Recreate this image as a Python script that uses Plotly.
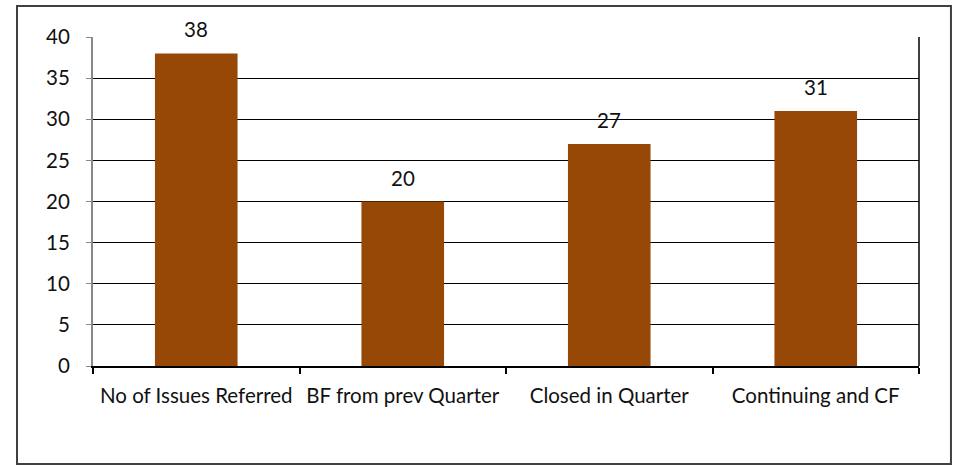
import plotly.graph_objects as go

categories = ["No of Issues Referred", "BF from prev Quarter", "Closed in Quarter", "Continuing and CF"]
values = [38, 20, 27, 31]
y_ticks = [0, 5, 10, 15, 20, 25, 30, 35, 40]

BAR = "#974806"
FONT = "Lato"
FS = 20.5
TXT = "#111111"

fig = go.Figure(go.Bar(x=categories, y=values, marker=dict(color=BAR, line=dict(width=0)), width=0.4))

for c, v in zip(categories, values):
    fig.add_annotation(x=c, y=v, text=str(v), showarrow=False, yanchor="bottom", yshift=10,
                       font=dict(family=FONT, size=FS, color=TXT))

fig.update_layout(
    width=954, height=467,
    margin=dict(l=93, r=35, t=37, b=101),
    paper_bgcolor="white", plot_bgcolor="white",
    showlegend=False,
    font=dict(family=FONT, size=FS, color=TXT),
    xaxis=dict(showgrid=False, showline=True, linecolor="black", linewidth=2,
               ticks="outside", tickson="boundaries", ticklen=6, tickcolor="black", tickwidth=2,
               tickangle=0, automargin=False,
               tickfont=dict(family=FONT, size=FS, color=TXT), ticklabelstandoff=10),
    yaxis=dict(range=[0, 40], tickvals=y_ticks, showgrid=True, gridcolor="black", gridwidth=1.2,
               showline=True, linecolor="#888888", linewidth=2, zeroline=False, automargin=False,
               ticks="outside", ticklen=5, tickcolor="#888888", tickwidth=1,
               tickfont=dict(family=FONT, size=FS, color=TXT), ticklabelstandoff=12),
    shapes=[
        dict(type="line", xref="paper", yref="paper", x0=1, x1=1, y0=0, y1=1,
             line=dict(color="black", width=1.5)),
        dict(type="rect", xref="paper", yref="paper", x0=-0.092, x1=1.0387, y0=-0.298, y1=1.094,
             line=dict(color="#404040", width=2), fillcolor="rgba(0,0,0,0)", layer="below"),
    ],
)

fig.write_html("out.html", config={"displayModeBar": False},
               post_script="document.body.style.margin='0';document.body.style.overflow='hidden';")
